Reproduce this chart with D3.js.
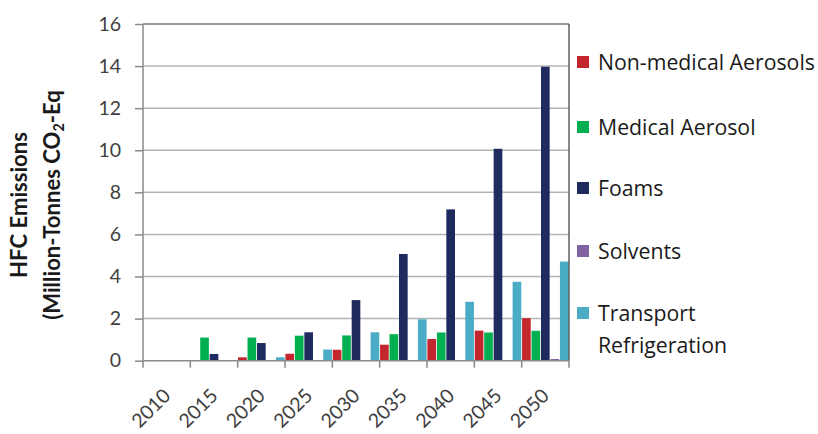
<!DOCTYPE html>
<html><head><meta charset="utf-8">
<script src="https://cdn.jsdelivr.net/npm/d3@7"></script>
<style>
html,body{margin:0;padding:0;background:#fff;}
svg{display:block;}
</style></head>
<body>
<svg id="c" width="818" height="434"></svg>
<script>
const years = ["2010","2015","2020","2025","2030","2035","2040","2045","2050"];
const seriesNames = ["Non-medical Aerosols","Medical Aerosol","Foams","Solvents","Transport Refrigeration"];
const seriesColors = ["#c4262e","#00b050","#1f2a5e","#8064a2","#4bacc6"];
const nonMedical = [0, 0.02, 0.16, 0.33, 0.52, 0.76, 1.03, 1.43, 2.02];
const medical    = [0, 1.10, 1.10, 1.19, 1.20, 1.26, 1.34, 1.34, 1.42];
const foams      = [0, 0.32, 0.84, 1.35, 2.88, 5.07, 7.19, 10.07, 13.97];
const solvents   = [0, 0, 0, 0, 0, 0, 0, 0, 0.08];
const transport  = [0, 0, 0.16, 0.53, 1.35, 1.97, 2.80, 3.75, 4.71];
const yTicks = [0,2,4,6,8,10,12,14,16];

const seriesValues = [nonMedical, medical, foams, solvents, transport];
const data = years.map((yr,i)=>({year:yr, values: seriesValues.map((s,j)=>({key:j, v:s[i]}))}));

const svg = d3.select("#c");
const L = 143, R = 569, T = 24, B = 360.7;
const font = "Lato, 'Open Sans', sans-serif";
const legendFont = "'Open Sans', Lato, sans-serif";

const x = d3.scaleBand().domain(years).range([L,R]).padding(0);
const x1 = d3.scaleBand().domain(d3.range(seriesNames.length)).range([0,x.bandwidth()]).padding(0);
const y = d3.scaleLinear().domain([0,16]).range([B,T]);

function fitSize(sel, base, target){
  const w = sel.node().getComputedTextLength();
  return w > 0 ? base*target/w : base;
}

// gridlines
svg.append("g").selectAll("line").data(yTicks.filter(t=>t>0 && t<16)).join("line")
  .attr("x1",L).attr("x2",R).attr("y1",d=>y(d)).attr("y2",d=>y(d))
  .attr("stroke","#b4b4b4").attr("stroke-width",1.5);
svg.append("line").attr("x1",L).attr("x2",R).attr("y1",y(16)).attr("y2",y(16))
  .attr("stroke","#7a7a7a").attr("stroke-width",1.5);

// bars
svg.append("g").selectAll("g").data(data).join("g")
  .attr("transform",d=>`translate(${x(d.year)},0)`)
  .selectAll("rect").data(d=>d.values).join("rect")
  .attr("x",d=>x1(d.key)+0.4).attr("width",x1.bandwidth()-0.8)
  .attr("y",d=>y(d.v)).attr("height",d=>B-y(d.v))
  .attr("fill",d=>seriesColors[d.key]);

svg.append("line").attr("x1",R).attr("x2",R).attr("y1",T).attr("y2",B)
  .attr("stroke","#3a3a3a").attr("stroke-width",1.2);

// y axis
const yAxis = d3.axisLeft(y).tickValues(yTicks).tickSize(8).tickPadding(14).tickFormat(d3.format("d"));
const ya = svg.append("g").attr("transform",`translate(${L},0)`).call(yAxis);
ya.select(".domain").remove();
ya.selectAll(".tick line").attr("stroke","#8a8a8a").attr("stroke-width",1.5);
ya.selectAll(".tick text").attr("font-family",font).attr("font-size",19.5).attr("fill","#404040");
svg.append("line").attr("x1",L).attr("x2",L).attr("y1",T).attr("y2",B)
  .attr("stroke","#8a8a8a").attr("stroke-width",1.5);

// x axis
svg.append("line").attr("x1",L).attr("x2",R).attr("y1",B).attr("y2",B)
  .attr("stroke","#8a8a8a").attr("stroke-width",1.5);
const bounds = years.map(d=>x(d)).concat([x(years[years.length-1])+x.bandwidth()]);
svg.append("g").selectAll("line").data(bounds).join("line")
  .attr("x1",d=>d).attr("x2",d=>d).attr("y1",B).attr("y2",B+7)
  .attr("stroke","#8a8a8a").attr("stroke-width",1.5);

svg.append("g").selectAll("text").data(years).join("text")
  .attr("transform",d=>`translate(${x(d)+x.bandwidth()/2+5},${397}) rotate(-45)`)
  .attr("text-anchor","end")
  .attr("font-family",font).attr("font-size",19.5).attr("fill","#404040")
  .text(d=>d);

// y title
const yt = svg.append("g").attr("font-family",font).attr("font-weight","bold").attr("font-size",21).attr("fill","#1a1a1a")
  .attr("text-anchor","middle");
const t1 = yt.append("text").attr("transform","translate(27,205) rotate(-90)").text("HFC Emissions");
const t2 = yt.append("text").attr("transform","translate(60,205) rotate(-90)");
t2.append("tspan").text("(Million-Tonnes CO");
const sub = t2.append("tspan").attr("dy",4).text("2");
t2.append("tspan").attr("dy",-4).text("-Eq");
const s1 = fitSize(t1,21,143), s2 = fitSize(t2,21,239);
const ts = (s1+s2)/2;
yt.attr("font-size",ts);
sub.attr("font-size",ts*0.65);

// legend
const legendY = [62,127,188,251,313];
const lg = svg.append("g");
seriesNames.forEach((name,i)=>{
  lg.append("rect").attr("x",577).attr("y",legendY[i]-6).attr("width",12).attr("height",12).attr("fill",seriesColors[i]);
});
const legendLines = [["Non-medical Aerosols"],["Medical Aerosol"],["Foams"],["Solvents"],["Transport","Refrigeration"]];
const lt = lg.append("g").attr("font-family",legendFont).attr("font-size",20).attr("fill","#1a1a1a");
let first = null;
legendLines.forEach((lines,i)=>{
  lines.forEach((ln,k)=>{
    const t = lt.append("text").attr("x",598).attr("y",legendY[i]+k*32).attr("dy","0.36em").text(ln);
    if(!first) first = t;
  });
});
lt.attr("font-size", fitSize(first,20,217));
</script>
</body></html>
